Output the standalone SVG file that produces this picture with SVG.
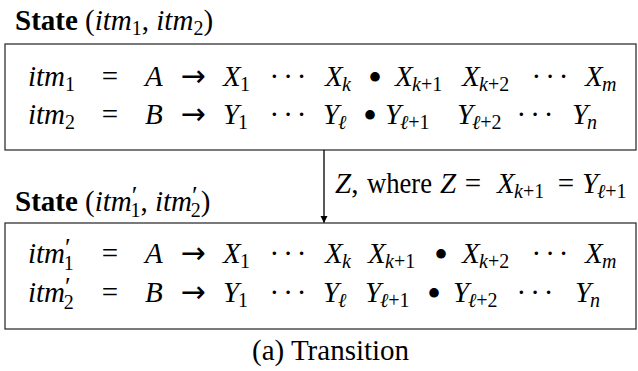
<svg xmlns="http://www.w3.org/2000/svg" width="638" height="371" viewBox="0 0 638 371">
<defs>
<style>
text{font-family:'Liberation Serif','Times New Roman','DejaVu Serif',serif;font-size:29px;fill:#000}
.i{font-style:italic}
.n{font-style:normal}
.s{font-size:20px}
.p{font-size:26px}
.b{font-weight:bold}
.c{text-anchor:middle}
.sym{font-family:'DejaVu Sans',sans-serif;font-size:30px}
.dots{letter-spacing:4px}
.bul{font-size:40px}
.box{fill:none;stroke:#333;stroke-width:1.3}
.edge{stroke:#000;stroke-width:1.3;fill:none}
</style>
<marker id="ah" viewBox="0 0 10 10" refX="10" refY="5" markerWidth="7" markerHeight="11" markerUnits="userSpaceOnUse" orient="auto"><path d="M0,0 L10,5 L0,10 z" fill="#000"/></marker>
</defs>
<rect width="638" height="371" fill="#fff"/>

<g id="state1">
<text x="15" y="30"><tspan class="b">State</tspan> (<tspan class="i">itm</tspan><tspan class="s" dy="5">1</tspan><tspan dy="-5">, </tspan><tspan class="i">itm</tspan><tspan class="s" dy="5">2</tspan><tspan dy="-5">)</tspan></text>
<rect class="box" x="5" y="44" width="631" height="106"/>
<g id="row1a">
<text x="28" y="86" class="i">itm</text><text x="65" y="91" class="s">1</text>
<text x="110" y="86" class="c">=</text>
<text x="145" y="86" class="i">A</text>
<text x="193" y="86" class="c sym">→</text>
<text x="223" y="86" class="i">X</text><text x="240" y="91" class="s">1</text>
<text x="290" y="86" class="c dots">···</text>
<text x="325" y="86" class="i">X</text><text x="342" y="91" class="s i">k</text>
<text x="375" y="91" class="c bul">•</text>
<text x="395" y="86" class="i">X</text><text x="412" y="91" class="s"><tspan class="i">k</tspan>+1</text>
<text x="462" y="86" class="i">X</text><text x="479" y="91" class="s"><tspan class="i">k</tspan>+2</text>
<text x="552" y="86" class="c dots">···</text>
<text x="585" y="86" class="i">X</text><text x="602" y="91" class="s i">m</text>
</g>
<g id="row2a">
<text x="28" y="124" class="i">itm</text><text x="65" y="129" class="s">2</text>
<text x="110" y="124" class="c">=</text>
<text x="145" y="124" class="i">B</text>
<text x="193" y="124" class="c sym">→</text>
<text x="223" y="124" class="i">Y</text><text x="238" y="129" class="s">1</text>
<text x="290" y="124" class="c dots">···</text>
<text x="323" y="124" class="i">Y</text><text x="338" y="129" class="s i">ℓ</text>
<text x="370" y="129" class="c bul">•</text>
<text x="385" y="124" class="i">Y</text><text x="400" y="129" class="s"><tspan class="i">ℓ</tspan>+1</text>
<text x="457" y="124" class="i">Y</text><text x="472" y="129" class="s"><tspan class="i">ℓ</tspan>+2</text>
<text x="537" y="124" class="c dots">···</text>
<text x="572" y="124" class="i">Y</text><text x="587" y="129" class="s i">n</text>
</g>
</g>

<g id="connectors">
<line class="edge" x1="324" y1="150" x2="324" y2="223" marker-end="url(#ah)"/>
<g id="edge-label">
<text x="335" y="193"><tspan class="i">Z</tspan>,</text>
<text x="367" y="193" textLength="65" lengthAdjust="spacingAndGlyphs">where</text>
<text x="440" y="193" class="i">Z</text>
<text x="473" y="193" class="c">=</text>
<text x="497" y="193" class="i">X</text><text x="514" y="198" class="s"><tspan class="i">k</tspan>+1</text>
<text x="566" y="193" class="c">=</text>
<text x="582" y="193" class="i">Y</text><text x="597" y="198" class="s"><tspan class="i">ℓ</tspan>+1</text>
</g>
</g>

<g id="state2">
<text x="15" y="211"><tspan class="b">State</tspan> (<tspan class="i">itm</tspan><tspan class="p" dy="-7">′</tspan><tspan class="s" dx="-7" dy="13">1</tspan><tspan dy="-6">, </tspan><tspan class="i">itm</tspan><tspan class="p" dy="-7">′</tspan><tspan class="s" dx="-7" dy="13">2</tspan><tspan dy="-6">)</tspan></text>
<rect class="box" x="5" y="223" width="631" height="106"/>
<g id="row1b">
<text x="28" y="263" class="i">itm<tspan class="p n" dy="-7">′</tspan><tspan class="s n" dx="-7" dy="14">1</tspan></text>
<text x="110" y="263" class="c">=</text>
<text x="145" y="263" class="i">A</text>
<text x="193" y="263" class="c sym">→</text>
<text x="223" y="263" class="i">X</text><text x="240" y="268" class="s">1</text>
<text x="290" y="263" class="c dots">···</text>
<text x="325" y="263" class="i">X</text><text x="342" y="268" class="s i">k</text>
<text x="368" y="263" class="i">X</text><text x="385" y="268" class="s"><tspan class="i">k</tspan>+1</text>
<text x="441" y="268" class="c bul">•</text>
<text x="462" y="263" class="i">X</text><text x="479" y="268" class="s"><tspan class="i">k</tspan>+2</text>
<text x="552" y="263" class="c dots">···</text>
<text x="585" y="263" class="i">X</text><text x="602" y="268" class="s i">m</text>
</g>
<g id="row2b">
<text x="28" y="302" class="i">itm<tspan class="p n" dy="-7">′</tspan><tspan class="s n" dx="-7" dy="14">2</tspan></text>
<text x="110" y="302" class="c">=</text>
<text x="145" y="302" class="i">B</text>
<text x="193" y="302" class="c sym">→</text>
<text x="223" y="302" class="i">Y</text><text x="238" y="307" class="s">1</text>
<text x="290" y="302" class="c dots">···</text>
<text x="323" y="302" class="i">Y</text><text x="338" y="307" class="s i">ℓ</text>
<text x="365" y="302" class="i">Y</text><text x="380" y="307" class="s"><tspan class="i">ℓ</tspan>+1</text>
<text x="434" y="307" class="c bul">•</text>
<text x="453" y="302" class="i">Y</text><text x="468" y="307" class="s"><tspan class="i">ℓ</tspan>+2</text>
<text x="537" y="302" class="c dots">···</text>
<text x="575" y="302" class="i">Y</text><text x="590" y="307" class="s i">n</text>
</g>
</g>

<text id="caption" x="252" y="360">(a) Transition</text>
</svg>
